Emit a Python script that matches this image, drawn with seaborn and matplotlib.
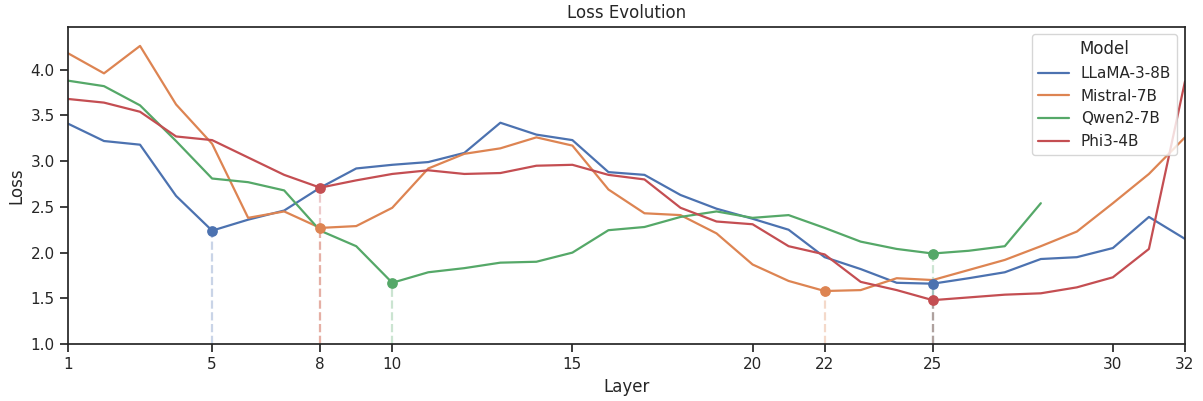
import numpy as np
import pandas as pd
import matplotlib
matplotlib.use("Agg")
import matplotlib.pyplot as plt
import seaborn as sns

layers = list(range(1, 33))
models = ["LLaMA-3-8B", "Mistral-7B", "Qwen2-7B", "Phi3-4B"]

llama = [3.41, 3.22, 3.18, 2.62, 2.24, 2.36, 2.46, 2.71, 2.92, 2.96, 2.99, 3.09,
         3.42, 3.29, 3.23, 2.88, 2.85, 2.63, 2.48, 2.37, 2.25, 1.95, 1.82, 1.67,
         1.66, 1.72, 1.785, 1.93, 1.95, 2.05, 2.39, 2.15]
mistral = [4.18, 3.96, 4.26, 3.62, 3.19, 2.38, 2.45, 2.27, 2.29, 2.49, 2.92, 3.08,
           3.14, 3.26, 3.17, 2.69, 2.43, 2.41, 2.21, 1.87, 1.69, 1.58, 1.59, 1.72,
           1.70, 1.81, 1.92, 2.07, 2.23, 2.54, 2.86, 3.26]
qwen = [3.88, 3.82, 3.61, 3.22, 2.81, 2.77, 2.68, 2.24, 2.07, 1.67, 1.785, 1.83,
        1.89, 1.90, 2.00, 2.245, 2.28, 2.39, 2.45, 2.38, 2.41, 2.27, 2.12, 2.04,
        1.99, 2.02, 2.07, 2.54, np.nan, np.nan, np.nan, np.nan]
phi = [3.68, 3.64, 3.54, 3.27, 3.23, 3.04, 2.85, 2.71, 2.79, 2.86, 2.90, 2.86,
       2.87, 2.95, 2.96, 2.85, 2.80, 2.49, 2.34, 2.31, 2.07, 1.98, 1.68, 1.59,
       1.48, 1.51, 1.54, 1.555, 1.62, 1.73, 2.04, 3.87]

# highlighted layers per model
highlight = {
    "LLaMA-3-8B": [5, 25],
    "Mistral-7B": [8, 22],
    "Qwen2-7B": [10, 25],
    "Phi3-4B": [8, 25],
}
xticks = [1, 5, 8, 10, 15, 20, 22, 25, 30, 32]

series = {"LLaMA-3-8B": llama, "Mistral-7B": mistral, "Qwen2-7B": qwen, "Phi3-4B": phi}
rows = []
for m in models:
    for l, v in zip(layers, series[m]):
        rows.append({"Layer": l, "Loss": v, "Model": m})
df = pd.DataFrame(rows)

sns.set_theme(style="ticks")
palette = sns.color_palette("deep", 4)
colors = dict(zip(models, palette))

fig, ax = plt.subplots(figsize=(12.03, 4.01), dpi=100)
fig.subplots_adjust(left=0.0565, right=0.985, top=0.9334, bottom=0.142)

sns.lineplot(data=df, x="Layer", y="Loss", hue="Model", palette=colors, ax=ax,
             linewidth=1.6)

ymin = 1.0
for m in models:
    for l in highlight[m]:
        v = series[m][l - 1]
        ax.plot([l, l], [ymin, v], linestyle="--", color=colors[m], alpha=0.3,
                linewidth=1.6, zorder=1)
        ax.scatter([l], [v], color=colors[m], s=45, zorder=5)

ax.set_xlim(1, 32)
ax.set_ylim(1.0, 4.47)
ax.set_xticks(xticks)
ax.set_title("Loss Evolution")
ax.set_xlabel("Layer")
ax.set_ylabel("Loss")
leg = ax.legend(title="Model", loc="upper right")

fig.savefig("out.png", dpi=100)
